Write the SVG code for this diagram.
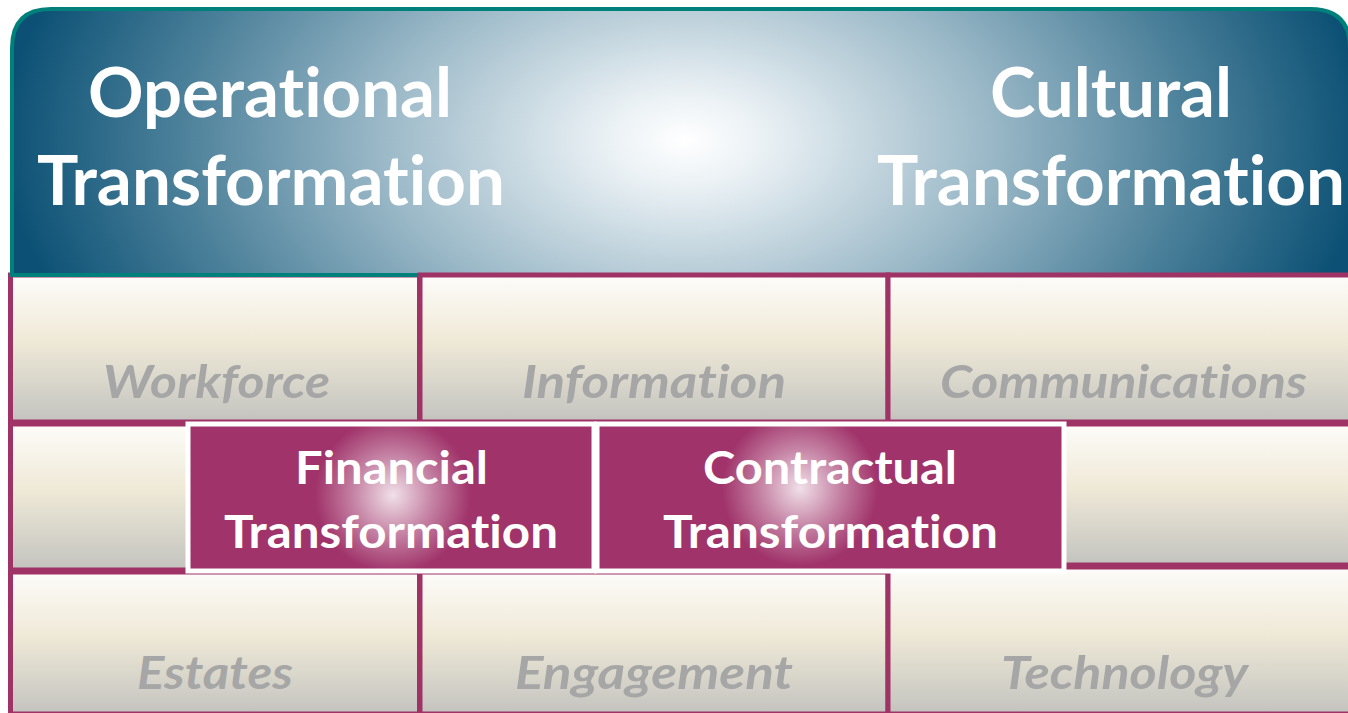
<svg xmlns="http://www.w3.org/2000/svg" width="1348" height="713" viewBox="0 0 1348 713">
<defs>
<radialGradient id="hdr" gradientUnits="userSpaceOnUse" cx="685" cy="140" r="680" gradientTransform="translate(0,140) scale(1,0.6) translate(0,-140)">
<stop offset="0" stop-color="#ffffff"/>
<stop offset="0.12" stop-color="#e9f0f4"/>
<stop offset="0.45" stop-color="#9ab8c7"/>
<stop offset="0.75" stop-color="#4a7f99"/>
<stop offset="1" stop-color="#0c5175"/>
</radialGradient>
<linearGradient id="brick" x1="0" y1="0" x2="0" y2="1">
<stop offset="0" stop-color="#fdfcf9"/>
<stop offset="0.45" stop-color="#efe9d7"/>
<stop offset="1" stop-color="#c3c3bf"/>
</linearGradient>
<radialGradient id="glow">
<stop offset="0" stop-color="#ffffff" stop-opacity="0.85"/>
<stop offset="0.5" stop-color="#ffffff" stop-opacity="0.4"/>
<stop offset="1" stop-color="#ffffff" stop-opacity="0"/>
</radialGradient>
<clipPath id="finClip"><rect x="188" y="424" width="406" height="147"/></clipPath>
<clipPath id="conClip"><rect x="597" y="424" width="467" height="147"/></clipPath>
</defs>
<style>
text{font-variant-ligatures:none;font-feature-settings:"liga" 0,"clig" 0}
.cell{fill:url(#brick);stroke:#9f3366;stroke-width:5}
.lbl{font-family:Lato,"Open Sans","Liberation Sans",sans-serif;font-weight:bold;font-style:italic;font-size:45px;fill:#a6a6a6}
.hd{font-family:Lato,"Open Sans","Liberation Sans",sans-serif;font-weight:bold;font-size:68px;fill:#ffffff}
.fx{fill:#a0336a;stroke:#ffffff;stroke-width:5}
.ft{font-family:Lato,"Open Sans","Liberation Sans",sans-serif;font-weight:bold;font-size:45px;fill:#ffffff}
</style>
<rect width="1348" height="713" fill="#ffffff"/>
<g id="workforce">
<rect class="cell" x="10.5" y="275" width="409" height="147"/>
<text class="lbl" x="103" y="398" textLength="227" lengthAdjust="spacingAndGlyphs">Workforce</text>
</g>
<g id="header">
<path d="M12,275 L12,48 Q12,9 51,9 L1310,9 Q1350,9 1350,48 L1350,275 Z" fill="url(#hdr)" stroke="#00807a" stroke-width="4"/>
<text class="hd" x="88" y="117" textLength="364" lengthAdjust="spacingAndGlyphs">Operational</text>
<text class="hd" x="37" y="205" textLength="468" lengthAdjust="spacingAndGlyphs">Transformation</text>
<text class="hd" x="990" y="117" textLength="242" lengthAdjust="spacingAndGlyphs">Cultural</text>
<text class="hd" x="877" y="205" textLength="468" lengthAdjust="spacingAndGlyphs">Transformation</text>
</g>
<g id="information">
<rect class="cell" x="420" y="275" width="468" height="147"/>
<text class="lbl" x="522" y="398" textLength="264" lengthAdjust="spacingAndGlyphs">Information</text>
</g>
<g id="communications">
<rect class="cell" x="888" y="275" width="465" height="147"/>
<text class="lbl" x="940" y="398" textLength="367" lengthAdjust="spacingAndGlyphs">Communications</text>
</g>
<g id="row2-left">
<rect class="cell" x="10.5" y="424" width="180" height="146"/>
</g>
<g id="row2-right">
<rect class="cell" x="1062" y="424" width="291" height="141"/>
</g>
<g id="estates">
<rect class="cell" x="10.5" y="572" width="409" height="142"/>
<text class="lbl" x="137" y="689" textLength="156" lengthAdjust="spacingAndGlyphs">Estates</text>
</g>
<g id="engagement">
<rect class="cell" x="420" y="572" width="468" height="142"/>
<text class="lbl" x="515" y="689" textLength="278" lengthAdjust="spacingAndGlyphs">Engagement</text>
</g>
<g id="technology">
<rect class="cell" x="888" y="567" width="465" height="147"/>
<text class="lbl" x="1001" y="689" textLength="247" lengthAdjust="spacingAndGlyphs">Technology</text>
</g>
<g id="financial">
<rect class="fx" x="188" y="424" width="406" height="147"/>
<g clip-path="url(#finClip)"><circle cx="393" cy="495" r="78" fill="url(#glow)"/></g>
<text class="ft" x="295" y="484" textLength="193" lengthAdjust="spacingAndGlyphs">Financial</text>
<text class="ft" x="224" y="548" textLength="334" lengthAdjust="spacingAndGlyphs">Transformation</text>
</g>
<g id="contractual">
<rect class="fx" x="597" y="424" width="467" height="147"/>
<g clip-path="url(#conClip)"><circle cx="800" cy="488" r="78" fill="url(#glow)"/></g>
<text class="ft" x="703" y="484" textLength="254" lengthAdjust="spacingAndGlyphs">Contractual</text>
<text class="ft" x="663" y="548" textLength="335" lengthAdjust="spacingAndGlyphs">Transformation</text>
</g>
<g id="connectors"/>
</svg>
